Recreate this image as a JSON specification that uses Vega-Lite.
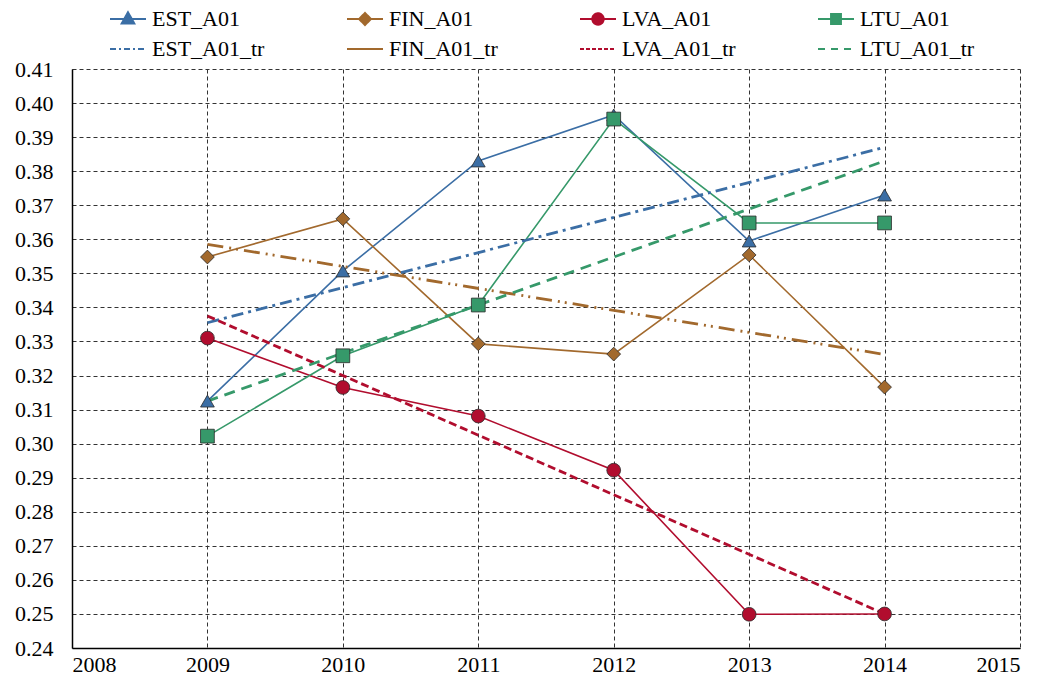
{
  "$schema": "https://vega.github.io/schema/vega-lite/v6.json",
  "width": 948,
  "height": 579,
  "autosize": {"type": "none"},
  "padding": {"left": 72, "top": 69, "right": 27, "bottom": 38},
  "background": "white",
  "config": {
    "view": {"stroke": null},
    "font": "Liberation Serif",
    "axis": {
      "labelFont": "Liberation Serif",
      "labelFontSize": 22,
      "labelColor": "#000",
      "ticks": false,
      "gridDash": [4, 3],
      "gridColor": "#333",
      "gridWidth": 1,
      "domainColor": "#000",
      "domainWidth": 1.5,
      "title": null
    },
    "legend": {"labelFont": "Liberation Serif"}
  },
  "data": {
    "values": [
      {"series": "EST_A01", "year": 2009, "value": 0.3125},
      {"series": "EST_A01", "year": 2010, "value": 0.3507},
      {"series": "EST_A01", "year": 2011, "value": 0.383},
      {"series": "EST_A01", "year": 2012, "value": 0.3965},
      {"series": "EST_A01", "year": 2013, "value": 0.3595},
      {"series": "EST_A01", "year": 2014, "value": 0.373},
      {"series": "FIN_A01", "year": 2009, "value": 0.3548},
      {"series": "FIN_A01", "year": 2010, "value": 0.366},
      {"series": "FIN_A01", "year": 2011, "value": 0.3293},
      {"series": "FIN_A01", "year": 2012, "value": 0.3263},
      {"series": "FIN_A01", "year": 2013, "value": 0.3554},
      {"series": "FIN_A01", "year": 2014, "value": 0.3166},
      {"series": "LVA_A01", "year": 2009, "value": 0.331},
      {"series": "LVA_A01", "year": 2010, "value": 0.3165},
      {"series": "LVA_A01", "year": 2011, "value": 0.3081},
      {"series": "LVA_A01", "year": 2012, "value": 0.2922},
      {"series": "LVA_A01", "year": 2013, "value": 0.2499},
      {"series": "LVA_A01", "year": 2014, "value": 0.25},
      {"series": "LTU_A01", "year": 2009, "value": 0.3022},
      {"series": "LTU_A01", "year": 2010, "value": 0.3258},
      {"series": "LTU_A01", "year": 2011, "value": 0.3407},
      {"series": "LTU_A01", "year": 2012, "value": 0.3953},
      {"series": "LTU_A01", "year": 2013, "value": 0.3648},
      {"series": "LTU_A01", "year": 2014, "value": 0.3648},
      {"series": "EST_A01_tr", "year": 2009, "value": 0.3355},
      {"series": "EST_A01_tr", "year": 2014, "value": 0.387},
      {"series": "FIN_A01_tr", "year": 2009, "value": 0.3585},
      {"series": "FIN_A01_tr", "year": 2014, "value": 0.3262},
      {"series": "LVA_A01_tr", "year": 2009, "value": 0.3375},
      {"series": "LVA_A01_tr", "year": 2014, "value": 0.25},
      {"series": "LTU_A01_tr", "year": 2009, "value": 0.3125},
      {"series": "LTU_A01_tr", "year": 2014, "value": 0.383}
    ]
  },
  "encoding": {
    "x": {
      "field": "year",
      "type": "quantitative",
      "scale": {"domain": [2008, 2015], "nice": false, "zero": false},
      "axis": {
        "values": [2008, 2009, 2010, 2011, 2012, 2013, 2014, 2015],
        "format": "d",
        "labelPadding": 6,
        "grid": true
      }
    },
    "y": {
      "field": "value",
      "type": "quantitative",
      "scale": {"domain": [0.24, 0.41], "nice": false, "zero": false},
      "axis": {
        "values": [0.24, 0.25, 0.26, 0.27, 0.28, 0.29, 0.30, 0.31, 0.32, 0.33, 0.34, 0.35, 0.36, 0.37, 0.38, 0.39, 0.40, 0.41],
        "format": ".2f",
        "labelPadding": 19,
        "grid": true
      }
    },
    "color": {
      "field": "series",
      "type": "nominal",
      "scale": {
        "domain": ["EST_A01", "FIN_A01", "LVA_A01", "LTU_A01", "EST_A01_tr", "FIN_A01_tr", "LVA_A01_tr", "LTU_A01_tr"],
        "range": ["#3B6EA5", "#A2692D", "#B10D2E", "#36996A", "#3B6EA5", "#A2692D", "#B10D2E", "#36996A"]
      },
      "legend": {
        "title": null,
        "orient": "none",
        "legendX": 40,
        "legendY": -66,
        "direction": "horizontal",
        "columns": 4,
        "columnPadding": 78,
        "rowPadding": 3,
        "padding": 0,
        "symbolSize": 900,
        "labelFontSize": 22,
        "labelColor": "#000",
        "labelOffset": 8,
        "labelLimit": 200,
        "encode": {
          "symbols": {
            "update": {
              "shape": {"signal": "datum.value === 'EST_A01' ? 'M-1.2,0H1.2M0,-0.45L0.42,0.3L-0.42,0.3Z' : datum.value === 'FIN_A01' ? 'M-1.2,0H1.2M0,-0.4L0.4,0L0,0.4L-0.4,0Z' : datum.value === 'LVA_A01' ? 'M-1.2,0H1.2M-0.38,0A0.38,0.38,0,1,0,0.38,0A0.38,0.38,0,1,0,-0.38,0Z' : datum.value === 'LTU_A01' ? 'M-1.2,0H1.2M-0.33,-0.33H0.33V0.33H-0.33Z' : 'M-1.2,0H1.2'"},
              "fill": {"scale": "color", "field": "value"},
              "stroke": {"scale": "color", "field": "value"},
              "strokeWidth": {"value": 2},
              "opacity": {"value": 1},
              "fillOpacity": {"value": 1},
              "strokeDash": {"signal": "datum.value === 'EST_A01_tr' ? [6,3,2,3] : datum.value === 'LVA_A01_tr' ? [4,2] : datum.value === 'LTU_A01_tr' ? [7,6] : [1,0]"}
            }
          }
        }
      }
    }
  },
  "layer": [
    {
      "transform": [{"filter": "indexof(datum.series, '_tr') < 0"}],
      "mark": {"type": "line", "strokeWidth": 1.6}
    },
    {
      "transform": [{"filter": "indexof(datum.series, '_tr') >= 0"}],
      "mark": {"type": "line", "strokeWidth": 2.8},
      "encoding": {
        "strokeDash": {
          "field": "series",
          "type": "nominal",
          "scale": {
            "domain": ["EST_A01_tr", "FIN_A01_tr", "LVA_A01_tr", "LTU_A01_tr"],
            "range": [[12, 5, 3, 5], [16, 6, 2, 5, 2, 6], [8, 4], [11, 7]]
          },
          "legend": null
        }
      }
    },
    {
      "transform": [{"filter": "indexof(datum.series, '_tr') < 0"}],
      "mark": {"type": "point", "filled": true, "size": 190, "stroke": "#2b2b2b", "strokeWidth": 0.8, "opacity": 1},
      "encoding": {
        "shape": {
          "field": "series",
          "type": "nominal",
          "scale": {
            "domain": ["EST_A01", "FIN_A01", "LVA_A01", "LTU_A01"],
            "range": ["triangle-up", "diamond", "circle", "square"]
          },
          "legend": null
        }
      }
    }
  ]
}
